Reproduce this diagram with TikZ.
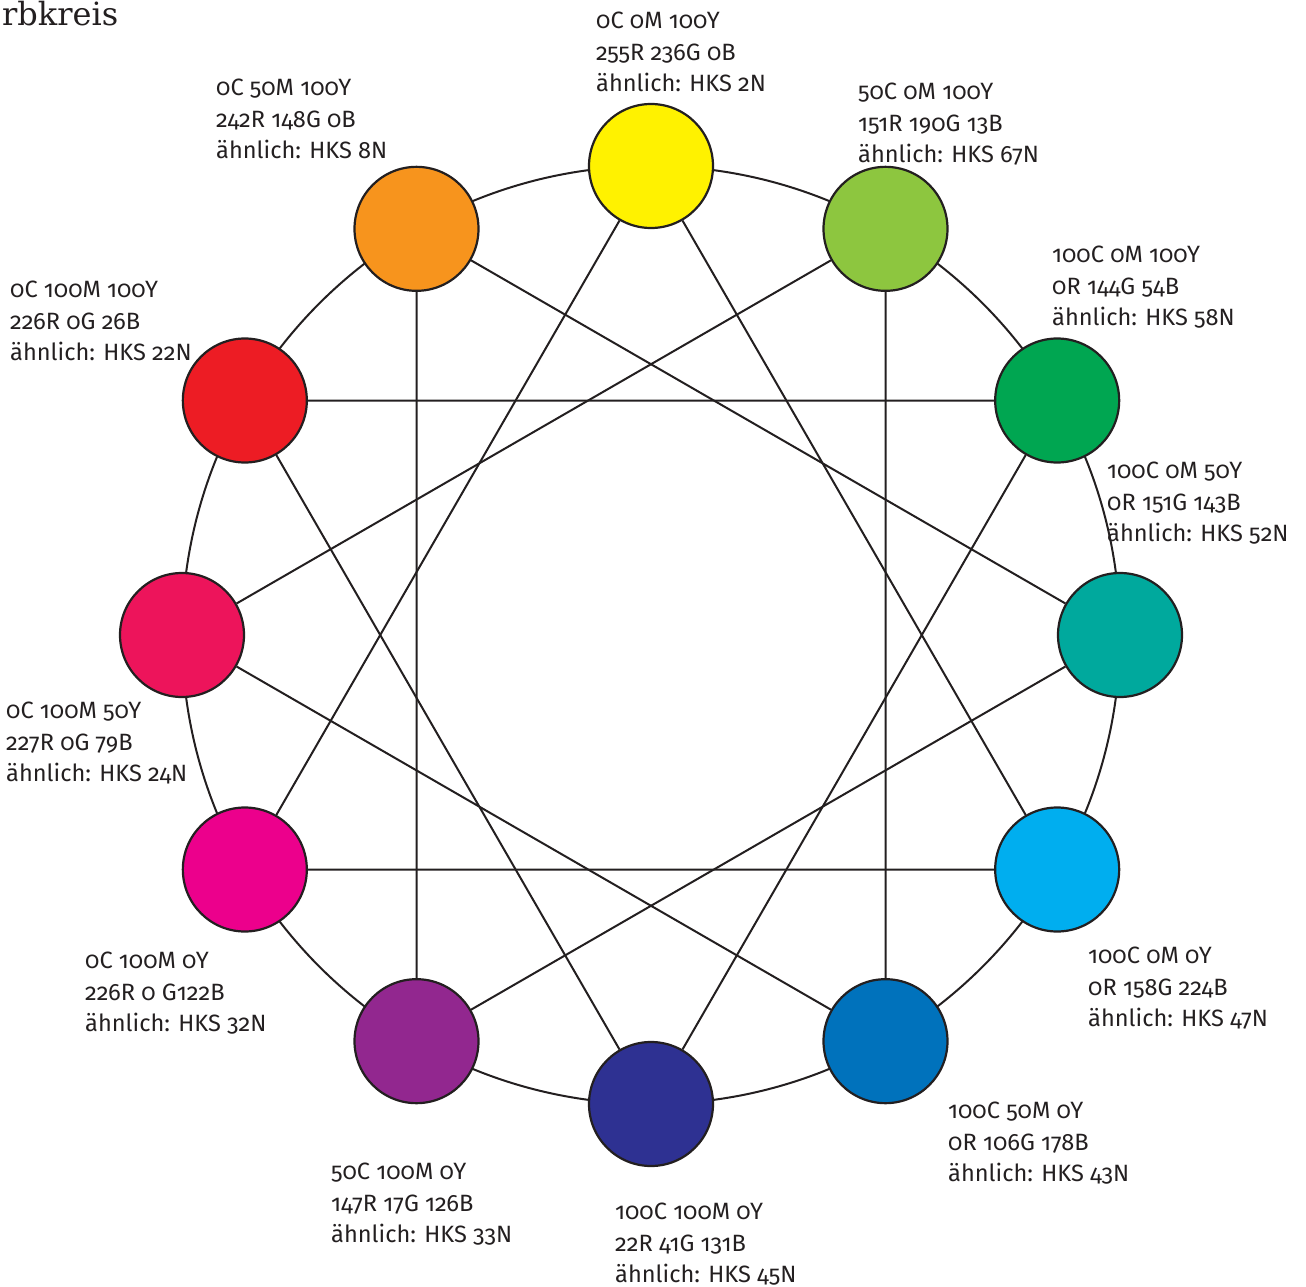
\documentclass[tikz,border=0pt]{standalone}
\usepackage{fontspec}
\setmainfont{Fira Sans}[Numbers=OldStyle]
\newfontfamily\titlefont{DejaVu Serif}
\usetikzlibrary{backgrounds}

\definecolor{ink}{HTML}{231F20}
\definecolor{cYe}{HTML}{FFF200}
\definecolor{cLg}{HTML}{8DC63F}
\definecolor{cGr}{HTML}{00A651}
\definecolor{cTe}{HTML}{00A99D}
\definecolor{cLb}{HTML}{00AEEF}
\definecolor{cBl}{HTML}{0072BC}
\definecolor{cDb}{HTML}{2E3192}
\definecolor{cPu}{HTML}{92278F}
\definecolor{cMa}{HTML}{EC008C}
\definecolor{cPr}{HTML}{ED145B}
\definecolor{cRe}{HTML}{ED1C24}
\definecolor{cOr}{HTML}{F7941D}

% three-line colour description, baseline on the first line
\newcommand\swatchinfo[3]{\begin{tabular}[t]{@{}l@{}}#1\\#2\\#3\end{tabular}}

\begin{document}
\begin{tikzpicture}[x=1pt,y=-1pt,
  swatch/.style={circle,draw=ink,line width=2.2pt,minimum size=124pt,inner sep=0pt},
  link/.style={draw=ink,line width=2pt},
  info/.style={anchor=base west,inner sep=0pt,text=ink,font=\fontsize{23.6}{31.7}\selectfont}]
\useasboundingbox (0,0) rectangle (1306,1287);

\node[anchor=base west,inner sep=0pt,text=ink,font=\titlefont\fontsize{32}{38}\selectfont] (title) at (2,25.5) {rbkreis};

% twelve colour discs, clockwise from yellow at the top
\coordinate (c) at (651,635);
\foreach \n [count=\i from 0, evaluate=\i as \a using \i*30-90] in {Ye,Lg,Gr,Te,Lb,Bl,Db,Pu,Ma,Pr,Re,Or}
  \node[swatch,fill=c\n] (\n) at ([shift={(\a:469)}]c) {};

% outer ring behind the discs
\begin{pgfonlayer}{background}
  \draw[link] (c) circle[radius=469pt];
\end{pgfonlayer}

% four triangles of the colour circle
\draw[link] (Ye) -- (Lb) (Lb) -- (Ma) (Ma) -- (Ye);
\draw[link] (Lg) -- (Bl) (Bl) -- (Pr) (Pr) -- (Lg);
\draw[link] (Gr) -- (Db) (Db) -- (Re) (Re) -- (Gr);
\draw[link] (Te) -- (Pu) (Pu) -- (Or) (Or) -- (Te);

% colour values
\node[info] (tYe) at (596,28.5)   {\swatchinfo{0C 0M 100Y}{255R 236G 0B}{ähnlich: HKS 2N}};
\node[info] (tOr) at (216,95.5)   {\swatchinfo{0C 50M 100Y}{242R 148G 0B}{ähnlich: HKS 8N}};
\node[info] (tLg) at (858,99.5)   {\swatchinfo{50C 0M 100Y}{151R 190G 13B}{ähnlich: HKS 67N}};
\node[info] (tGr) at (1052,262.5) {\swatchinfo{100C 0M 100Y}{0R 144G 54B}{ähnlich: HKS 58N}};
\node[info] (tRe) at (10,297.5)   {\swatchinfo{0C 100M 100Y}{226R 0G 26B}{ähnlich: HKS 22N}};
\node[info] (tTe) at (1107,478.5) {\swatchinfo{100C 0M 50Y}{0R 151G 143B}{ähnlich: HKS 52N}};
\node[info] (tPr) at (6,718.5)    {\swatchinfo{0C 100M 50Y}{227R 0G 79B}{ähnlich: HKS 24N}};
\node[info] (tLb) at (1088,963.5) {\swatchinfo{100C 0M 0Y}{0R 158G 224B}{ähnlich: HKS 47N}};
\node[info] (tMa) at (85,968.5)   {\swatchinfo{0C 100M 0Y}{226R 0 G122B}{ähnlich: HKS 32N}};
\node[info] (tBl) at (948,1118.5) {\swatchinfo{100C 50M 0Y}{0R 106G 178B}{ähnlich: HKS 43N}};
\node[info] (tPu) at (331,1179.5) {\swatchinfo{50C 100M 0Y}{147R 17G 126B}{ähnlich: HKS 33N}};
\node[info] (tDb) at (615,1219.5) {\swatchinfo{100C 100M 0Y}{22R 41G 131B}{ähnlich: HKS 45N}};
\end{tikzpicture}
\end{document}
